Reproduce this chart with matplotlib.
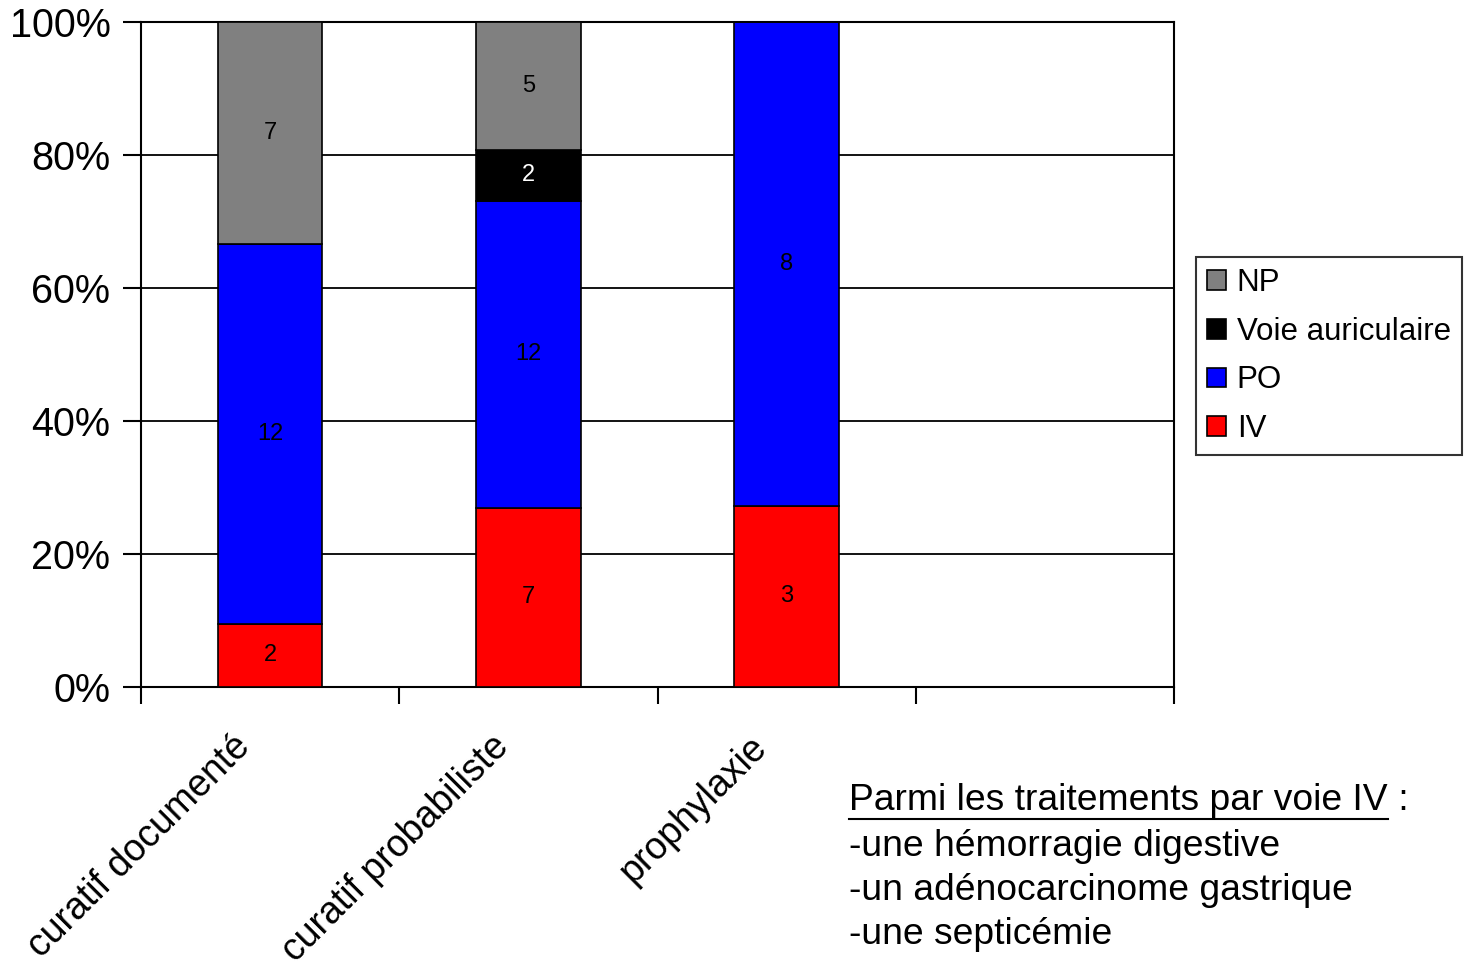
import numpy as np
import matplotlib.pyplot as plt
from matplotlib.lines import Line2D
from matplotlib.transforms import ScaledTranslation

plt.rcParams['font.family'] = ['Liberation Sans', 'DejaVu Sans']

categories = ['curatif documenté', 'curatif probabiliste', 'prophylaxie']
series = ['IV', 'PO', 'Voie auriculaire', 'NP']
colors = ['#ff0000', '#0000ff', '#000000', '#808080']
values = {
    'IV': [2, 7, 3],
    'PO': [12, 12, 8],
    'Voie auriculaire': [0, 2, 0],
    'NP': [7, 5, 0],
}
label_colors = {'IV': 'black', 'PO': 'black', 'Voie auriculaire': 'white', 'NP': 'black'}
n_slots = 4
note_title = 'Parmi les traitements par voie IV'
note_lines = ['-une hémorragie digestive', '-un adénocarcinome gastrique', '-une septicémie']

fig = plt.figure(figsize=(14.66, 9.61), dpi=100)
ax = fig.add_axes([141 / 1466, 1 - 687 / 961, (1174 - 141) / 1466, (687 - 22) / 961])

totals = np.sum([values[s] for s in series], axis=0)
x = np.arange(len(categories)) + 0.5
bottom = np.zeros(len(categories))
handles = {}
for s, c in zip(series, colors):
    v = np.array(values[s], dtype=float)
    pct = v / totals * 100
    bars = ax.bar(x, pct, width=0.405, bottom=bottom, color=c, edgecolor='black',
                  linewidth=1.2, zorder=3, label=s)
    handles[s] = bars
    for xi, b, p, raw in zip(x, bottom, pct, values[s]):
        if raw > 0:
            ax.text(xi, b + p / 2, str(raw), ha='center', va='center',
                    fontsize=17, color=label_colors[s], zorder=4)
    bottom += pct

ax.set_xlim(0, n_slots)
ax.set_ylim(0, 100)
ax.set_yticks(np.arange(0, 101, 20))
ax.set_yticklabels([f'{t}%' for t in range(0, 101, 20)], fontsize=28.5)
ax.yaxis.grid(True, color='black', linewidth=1.3, zorder=0)
ax.set_xticks(np.arange(0, n_slots + 1))
ax.set_xticklabels([])
ax.set_xticks(x, minor=True)
ax.set_xticklabels(categories, minor=True, rotation=45, ha='right',
                   rotation_mode='anchor', fontsize=27)
ax.tick_params(axis='x', which='minor', length=0, pad=30)
ax.tick_params(axis='x', which='major', length=12, width=1.5, direction='out')
ax.tick_params(axis='y', length=13, width=1.5, direction='out', pad=9)
for sp in ax.spines.values():
    sp.set_linewidth(1.5)
# shift the rotated category labels left, as in the original
shift = ScaledTranslation(-0.38, 0, fig.dpi_scale_trans)
for lab in ax.get_xticklabels(minor=True):
    lab.set_transform(lab.get_transform() + shift)

leg_order = ['NP', 'Voie auriculaire', 'PO', 'IV']
leg = fig.legend([handles[s] for s in leg_order], leg_order,
                 loc='upper left', bbox_to_anchor=(1196 / 1466, 1 - 257 / 961),
                 fontsize=22.5, frameon=True, fancybox=False, edgecolor='black',
                 handlelength=0.6, handleheight=0.6, handletextpad=0.35,
                 labelspacing=0.6, borderpad=0.35, borderaxespad=0)
leg.get_frame().set_linewidth(1.5)

fx = 849 / 1466
fs = 26.8
t = fig.text(fx, 1 - 801 / 961, note_title, fontsize=fs, va='center', ha='left')
fig.canvas.draw()
bb = t.get_window_extent(fig.canvas.get_renderer())
fig.text(bb.x1 / 1466, 1 - 801 / 961, ' :', fontsize=fs, va='center', ha='left')
uy = 1 - 819 / 961
fig.add_artist(Line2D([bb.x0 / 1466, bb.x1 / 1466], [uy, uy], color='black',
                      linewidth=1.5, transform=fig.transFigure))
for i, line in enumerate(note_lines):
    fig.text(fx, 1 - (846 + 44.3 * i) / 961, line, fontsize=fs, va='center', ha='left')

fig.savefig('out.png', dpi=100)
